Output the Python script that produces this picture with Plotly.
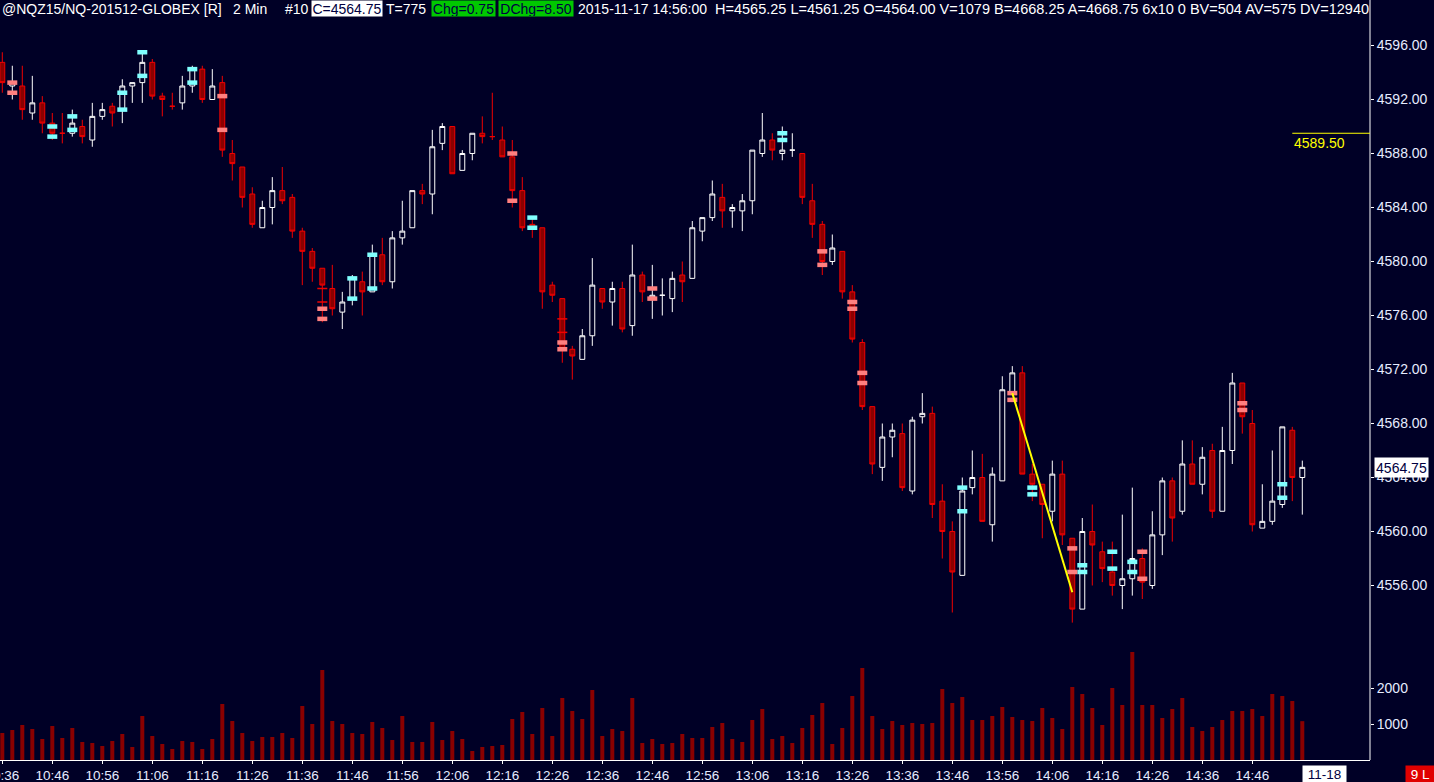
import plotly.graph_objects as go


# NQ 2 min bars, bar 0 = 10:36, bar 130 = 14:56
OPEN = [
    4594.75, 4593, 4593, 4591, 4591.75, 4590.25, 4589.5, 4589.5, 4590, 4589,
    4590.75, 4591.5, 4591.25, 4593, 4593.25, 4594.75, 4592.25, 4591.5, 4591.75, 4593,
    4594.25, 4592, 4593.25, 4588, 4587, 4585, 4582.5, 4584, 4585.25, 4584.75,
    4582.25, 4580.75, 4579.5, 4578, 4576.25, 4577.25, 4578.5, 4577.75, 4580.5, 4578.5,
    4581.75, 4582.5, 4585.25, 4585, 4588.75, 4590, 4586.75, 4588, 4589.5, 4589.25,
    4589, 4587.75, 4585.25, 4582.75, 4582.5, 4578.25, 4577.25, 4573.5, 4572.75, 4574.5,
    4578, 4577, 4578, 4575.25, 4579, 4577.25, 4577.5, 4577.25, 4579, 4578.75,
    4582.25, 4583.25, 4584.75, 4583.75, 4583.75, 4584.5, 4588, 4589, 4588, 4588.25,
    4588, 4584.5, 4582.75, 4580, 4580.75, 4577.75, 4574, 4569.25, 4564.75, 4567,
    4567.25, 4563, 4568.5, 4568.75, 4562.25, 4560, 4556.75, 4563.25, 4564, 4560.5,
    4563.75, 4570.25, 4571.75, 4564.25, 4563.5, 4561.5, 4564.25, 4559.5, 4554.25, 4560,
    4558.5, 4557, 4556, 4556.5, 4558, 4556, 4559.75, 4563.75, 4561.5, 4565,
    4563.5, 4566, 4561.5, 4566, 4571, 4568, 4560.25, 4560.75, 4562, 4567.5,
    4564,
]
HIGH = [
    4595.5, 4594.5, 4594.5, 4593.75, 4592.25, 4591, 4591, 4591.25, 4590.5, 4591.75,
    4591.75, 4591.75, 4593.5, 4593.25, 4595.5, 4595, 4592.5, 4592.5, 4593.75, 4594.5,
    4594.5, 4594.25, 4593.75, 4589, 4587, 4585.5, 4584.5, 4586.25, 4587, 4585,
    4582.5, 4581, 4579.5, 4579.75, 4577.75, 4579, 4579.25, 4581.25, 4581.75, 4582.25,
    4584.5, 4585.25, 4585.75, 4589.75, 4590.25, 4590, 4588.25, 4589.5, 4590.75, 4592.5,
    4590, 4589, 4586.25, 4583.25, 4582.5, 4578.5, 4577.25, 4573.75, 4575, 4580.25,
    4578, 4578.5, 4578.5, 4581.25, 4579.25, 4579.75, 4578.75, 4579.25, 4580, 4583,
    4583.25, 4586, 4585.75, 4584.25, 4585, 4588.25, 4591, 4589.5, 4590, 4589.5,
    4588, 4585.75, 4583, 4582, 4580.75, 4578.25, 4574.25, 4569.25, 4568, 4568,
    4568, 4568.5, 4570.25, 4569.25, 4563.5, 4560.75, 4564, 4566, 4565.75, 4564.75,
    4571.5, 4572.25, 4572.25, 4565, 4563.5, 4565.25, 4565.25, 4559.5, 4561, 4562,
    4559.25, 4559.25, 4561.25, 4563.25, 4558.75, 4561.5, 4564, 4564, 4566.75, 4566.75,
    4566.25, 4566.5, 4567.75, 4571.75, 4571, 4569, 4563.5, 4566, 4567.75, 4567.75,
    4565.25,
]
LOW = [
    4592.5, 4592, 4590.5, 4590.5, 4589.5, 4589, 4588.75, 4589.25, 4588.75, 4588.5,
    4590.5, 4590, 4590.25, 4591.75, 4591.75, 4592, 4590.75, 4591.25, 4591.25, 4592.5,
    4591.75, 4592, 4587.75, 4586, 4584, 4582.5, 4582.5, 4582.75, 4584.25, 4581.75,
    4578.25, 4578.5, 4575.5, 4576, 4575, 4576.75, 4576, 4577.75, 4578.25, 4578,
    4581.25, 4582.5, 4584.25, 4583.5, 4588.25, 4586.5, 4586.75, 4587.5, 4588.75, 4589,
    4587.75, 4584, 4582.25, 4581.75, 4576.5, 4577, 4572.5, 4571.25, 4572.75, 4573.75,
    4576.5, 4575.25, 4574.75, 4574.5, 4577, 4575.75, 4576, 4576.25, 4577, 4578.75,
    4581.5, 4583, 4582.5, 4582.5, 4582.25, 4583.5, 4587.75, 4587.5, 4587.5, 4587.75,
    4584.25, 4581.75, 4579, 4579.75, 4577.25, 4574, 4569, 4564.25, 4563.75, 4565.5,
    4563, 4562.75, 4568, 4561, 4558, 4554, 4556.75, 4562.75, 4560.75, 4559.25,
    4563.75, 4570.25, 4564.25, 4562.25, 4559.5, 4560.75, 4559, 4553.25, 4554.25, 4556,
    4556.25, 4555.25, 4554.25, 4555.25, 4555, 4555.75, 4558.25, 4559.25, 4561.25, 4563.5,
    4562.75, 4561, 4561.5, 4565, 4567.25, 4560, 4560.25, 4560.5, 4561.75, 4562.25,
    4561.25,
]
CLOSE = [
    4593.25, 4593.25, 4591.25, 4591.75, 4590.25, 4589.5, 4589.5, 4590.25, 4589.25, 4590.75,
    4591.25, 4591, 4593, 4593.25, 4594.75, 4592.25, 4592, 4591.5, 4593, 4594.25,
    4592, 4593, 4588.25, 4587.25, 4584.75, 4582.75, 4584, 4585.25, 4584.5, 4582.25,
    4580.75, 4579.5, 4578.25, 4576.5, 4577, 4578.75, 4577.75, 4580.5, 4578.5, 4581.75,
    4582.25, 4585.25, 4585, 4588.5, 4590, 4586.5, 4588, 4589.5, 4589.25, 4589.25,
    4587.75, 4585.25, 4582.5, 4582.5, 4577.75, 4577.5, 4573.5, 4573, 4574.5, 4578.25,
    4577, 4578, 4575, 4579, 4577.75, 4577.5, 4577.5, 4578.75, 4578.5, 4582.5,
    4583.25, 4585, 4583.75, 4584, 4584.5, 4588.25, 4589, 4588.25, 4588.25, 4588.25,
    4584.75, 4582.75, 4580, 4581, 4577.75, 4574.25, 4569.25, 4565, 4567, 4567.5,
    4563.25, 4568.25, 4568.75, 4562, 4560, 4557, 4563, 4564, 4560.75, 4564.25,
    4570.5, 4571.75, 4564.25, 4563.5, 4562, 4564.25, 4559.75, 4554.25, 4560, 4559,
    4557.25, 4556, 4556.5, 4558, 4556.25, 4559.75, 4563.75, 4561, 4565, 4563.5,
    4565.5, 4561.5, 4566, 4571, 4568.5, 4560.5, 4560.75, 4562.25, 4567.75, 4564,
    4564.75,
]
VOLUME = [
    750, 833, 972, 861, 583, 944, 611, 889, 500, 472,
    389, 528, 722, 361, 1222, 667, 444, 306, 528, 500,
    306, 583, 1556, 1083, 750, 528, 639, 639, 750, 611,
    1500, 1000, 2500, 1083, 1000, 750, 722, 1056, 889, 556,
    1222, 500, 500, 1056, 556, 806, 583, 250, 361, 389,
    417, 1139, 1333, 722, 1444, 667, 1722, 1361, 1139, 1944,
    667, 861, 806, 1722, 472, 583, 444, 472, 722, 611,
    611, 917, 1028, 583, 500, 1111, 1417, 583, 667, 472,
    889, 1250, 1583, 444, 889, 1778, 2556, 1222, 861, 1083,
    972, 1028, 1000, 1028, 1972, 1583, 1750, 1111, 1111, 1222,
    1472, 1194, 1111, 1083, 1444, 1167, 861, 2028, 1833, 1444,
    972, 2000, 1528, 3000, 1528, 1528, 1167, 1417, 1722, 917,
    806, 917, 1111, 1361, 1361, 1417, 1222, 1833, 1778, 1639,
    1079,
]

TIME_TICKS = [
    '10:36', '10:46', '10:56', '11:06', '11:16', '11:26', '11:36', '11:46', '11:56',
    '12:06', '12:16', '12:26', '12:36', '12:46', '12:56', '13:06', '13:16', '13:26',
    '13:36', '13:46', '13:56', '14:06', '14:16', '14:26', '14:36', '14:46',
]
PRICE_TICKS = [4556, 4560, 4564, 4568, 4572, 4576, 4580, 4584, 4588, 4592, 4596]
VOLUME_TICKS = [1000, 2000]

# study dashes drawn across a bar: (bar, price)
CYAN_BARS = [5, 5, 7, 7, 12, 12, 14, 14, 19, 19, 35, 35, 37, 37, 53, 53, 78, 78,
             96, 96, 103, 103, 108, 108, 111, 111, 113, 113, 128, 128]
CYAN_PRICES = [4590, 4589.25, 4590.75, 4589.75, 4592.5, 4591.25, 4595.5, 4593.75,
               4594.25, 4593.25, 4578.75, 4577.25, 4580.5, 4578, 4583.25, 4582.5,
               4589.5, 4589, 4563.25, 4561.5, 4563.25, 4562.75, 4557.5, 4557,
               4558.5, 4557.25, 4557.75, 4557, 4563.5, 4562.5]
SALMON_BARS = [1, 1, 22, 22, 32, 32, 51, 51, 56, 56, 65, 65, 82, 82, 85, 85, 86, 86,
               101, 101, 107, 107, 114, 114, 124, 124]
SALMON_PRICES = [4593.25, 4592.5, 4592.25, 4589.75, 4576.5, 4575.75, 4588, 4584.5,
                 4574, 4573.5, 4578, 4577.25, 4580.75, 4579.75, 4577, 4576.5,
                 4571.75, 4571, 4570.25, 4569.75, 4558.75, 4557, 4558.5, 4556.5,
                 4569.5, 4569]
RED_TICK_BARS = [32, 32, 56, 56]
RED_TICK_PRICES = [4578, 4577, 4575.75, 4574.75]

TREND_X = [101, 107]
TREND_Y = [4570.25, 4555.5]

LEVEL_PRICE = 4589.50
LEVEL_START = 129
LAST_PRICE = 4564.75

X_RANGE = [-0.23, 136.77]
BG = '#000026'
AXIS_TEXT = '#e6ecff'
FONT = 'Liberation Sans'
PLOT_W = 1370
PLOT_H = 760


def dash_trace(bars, prices, color, width):
    xs, ys = [], []
    for b, p in zip(bars, prices):
        xs += [b - 0.5, b + 0.5, None]
        ys += [p, p, None]
    return go.Scatter(
        x=xs, y=ys, mode='lines', yaxis='y',
        line={'color': color, 'width': width},
        hoverinfo='skip',
    )


def header_note(px, text, bg=None, w=None, color='white', size=14):
    note = dict(
        xref='paper', yref='paper', x=px / PLOT_W, y=1,
        xanchor='left', yanchor='top', showarrow=False,
        text=text, font={'family': FONT, 'size': size, 'color': color},
        borderpad=0,
    )
    if bg:
        note.update(bgcolor=bg, width=w, height=15)
    return note


bars = list(range(len(OPEN)))

fig = go.Figure()

fig.add_trace(
    go.Candlestick(
        x=bars, open=OPEN, high=HIGH, low=LOW, close=CLOSE,
        increasing={'line': {'color': 'white', 'width': 1}, 'fillcolor': BG},
        decreasing={'line': {'color': '#f00000', 'width': 1}, 'fillcolor': '#8b0000'},
        yaxis='y',
    )
)

fig.add_trace(dash_trace(RED_TICK_BARS, RED_TICK_PRICES, '#f00000', 1.5))
fig.add_trace(dash_trace(CYAN_BARS, CYAN_PRICES, '#80ffff', 4.5))
fig.add_trace(dash_trace(SALMON_BARS, SALMON_PRICES, '#ff8080', 4.5))

fig.add_trace(
    go.Scatter(
        x=TREND_X, y=TREND_Y, mode='lines', yaxis='y',
        line={'color': '#ffff00', 'width': 2},
    )
)

fig.add_trace(
    go.Bar(
        x=bars, y=VOLUME, width=0.4, yaxis='y2',
        marker={'color': '#8b0000', 'line': {'width': 0}},
    )
)

price_top, price_bot = 20, 640
vol_top = 645
px_per_pt = 13.5
y_4596 = 45.5

fig.update_layout(
    width=1434,
    height=782,
    margin={'l': 0, 'r': 1434 - PLOT_W, 't': 0, 'b': 782 - PLOT_H},
    paper_bgcolor=BG,
    plot_bgcolor=BG,
    showlegend=False,
    font={'family': FONT, 'size': 14, 'color': AXIS_TEXT},
    xaxis={
        'range': X_RANGE,
        'anchor': 'y2',
        'automargin': False,
        'showgrid': False,
        'zeroline': False,
        'showline': True,
        'linecolor': 'white',
        'linewidth': 1,
        'ticks': 'outside',
        'ticklen': 3,
        'tickcolor': 'white',
        'tickvals': list(range(0, 5 * len(TIME_TICKS), 5)),
        'ticktext': TIME_TICKS,
        'tickfont': {'size': 13.5, 'color': AXIS_TEXT},
        'ticklabeloverflow': 'allow',
        'rangeslider': {'visible': False},
    },
    yaxis={
        'domain': [(PLOT_H - price_bot) / PLOT_H, (PLOT_H - price_top) / PLOT_H],
        'range': [4596 - (price_bot - y_4596) / px_per_pt,
                  4596 + (y_4596 - price_top) / px_per_pt],
        'side': 'right',
        'anchor': 'x',
        'automargin': False,
        'showgrid': False,
        'zeroline': False,
        'ticks': 'outside',
        'ticklen': 3,
        'tickcolor': 'white',
        'tickvals': PRICE_TICKS,
        'ticktext': [f'{p:.2f}' for p in PRICE_TICKS],
        'tickfont': {'size': 14, 'color': AXIS_TEXT},
    },
    yaxis2={
        'domain': [0, (PLOT_H - vol_top) / PLOT_H],
        'range': [0, (PLOT_H - vol_top) / 0.036],
        'side': 'right',
        'anchor': 'x',
        'automargin': False,
        'showgrid': False,
        'zeroline': False,
        'ticks': 'outside',
        'ticklen': 3,
        'tickcolor': 'white',
        'tickvals': VOLUME_TICKS,
        'ticktext': [str(v) for v in VOLUME_TICKS],
        'tickfont': {'size': 14, 'color': AXIS_TEXT},
    },
)

# right scale separator
fig.add_shape(
    type='line', xref='paper', yref='paper', x0=1, x1=1, y0=0, y1=1,
    line={'color': 'white', 'width': 1},
)
# horizontal level with its price
fig.add_shape(
    type='line', xref='x', yref='y', x0=LEVEL_START, x1=X_RANGE[1],
    y0=LEVEL_PRICE, y1=LEVEL_PRICE,
    line={'color': '#ffff00', 'width': 1},
)
fig.add_annotation(
    x=LEVEL_START, y=LEVEL_PRICE, xref='x', yref='y',
    xanchor='left', yanchor='top', showarrow=False,
    text=f'{LEVEL_PRICE:.2f}', font={'family': FONT, 'size': 14, 'color': '#ffff00'},
)
# last price tag
fig.add_annotation(
    x=1374 / PLOT_W, y=LAST_PRICE, xref='paper', yref='y',
    xanchor='left', yanchor='middle', showarrow=False,
    text=f'{LAST_PRICE:.2f}', bgcolor='white', borderpad=0, width=53, height=19,
    font={'family': FONT, 'size': 14, 'color': '#000040'},
)

# header line
header = [
    header_note(1, '@NQZ15/NQ-201512-GLOBEX [R]'),
    header_note(232, '2 Min'),
    header_note(284, '#10'),
    header_note(311, 'C=4564.75', bg='white', w=70, color='#000040'),
    header_note(385, 'T=775'),
    header_note(431, 'Chg=0.75', bg='#00c800', w=63, color='#000040'),
    header_note(498, 'DChg=8.50', bg='#00c800', w=74, color='#000040'),
    header_note(577, '2015-11-17 14:56:00'),
    header_note(714, 'H=4565.25 L=4561.25 O=4564.00 V=1079 B=4668.25 '
                     'A=4668.75 6x10 0 BV=504 AV=575 DV=12940', size=14.5),
]
for note in header:
    fig.add_annotation(note)

# bottom right tags
fig.add_annotation(
    x=1302 / PLOT_W, y=-5 / PLOT_H, xref='paper', yref='paper',
    xanchor='left', yanchor='top', showarrow=False,
    text='11-18', bgcolor='white', borderpad=0, width=43, height=17,
    font={'family': FONT, 'size': 13.5, 'color': '#000040'},
)
fig.add_annotation(
    x=1405 / PLOT_W, y=-5 / PLOT_H, xref='paper', yref='paper',
    xanchor='left', yanchor='top', showarrow=False,
    text='9 L', bgcolor='#e00000', borderpad=0, width=29, height=17,
    font={'family': FONT, 'size': 13.5, 'color': 'white'},
)

fig.write_html(
    "out.html",
    config={'displayModeBar': False},
    post_script="document.body.style.margin='0';document.body.style.overflow='hidden';",
)
